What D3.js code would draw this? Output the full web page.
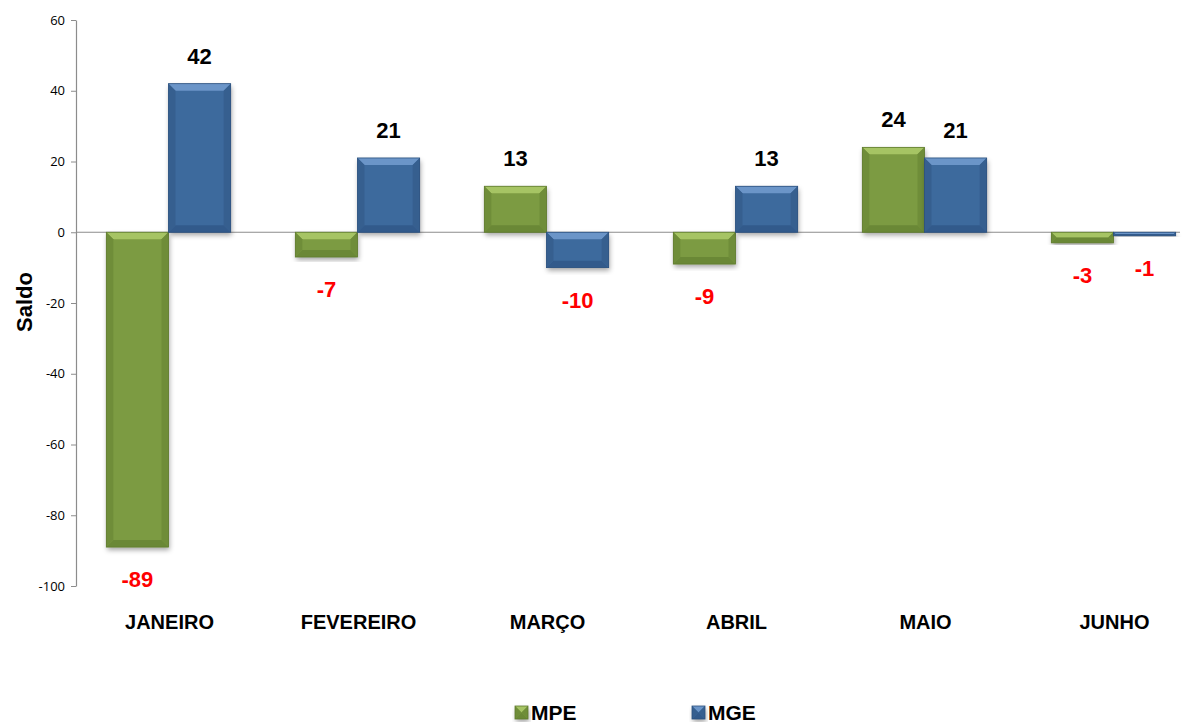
<!DOCTYPE html>
<html>
<head>
<meta charset="utf-8">
<script src="https://cdn.jsdelivr.net/npm/d3@7"></script>
<style>
  body { margin: 0; background: #fff; }
  svg { display: block; font-family: "Liberation Sans", "DejaVu Sans", sans-serif; }
</style>
</head>
<body>
<svg id="chart" width="1194" height="722"></svg>
<script>
// data
var months = ["JANEIRO", "FEVEREIRO", "MARÇO", "ABRIL", "MAIO", "JUNHO"];
var series = ["MPE", "MGE"];
var mpe = [-89, -7, 13, -9, 24, -3];
var mge = [42, 21, -10, 13, 21, -1];
var yTicks = [60, 40, 20, 0, -20, -40, -60, -80, -100];

var colors = {
  MPE: {base: "#7b9b42", light: "#a6c464", dark: "#5f7b2e", side: "#6f8d39"},
  MGE: {base: "#3e6a9d", light: "#6b95c8", dark: "#2b507e", side: "#365f8f"}
};

function drawChart(){
  var svg = d3.select("#chart");
  var margin = {left: 76, right: 1210, top: 20, bottom: 586};

  var x = d3.scaleBand().domain(months).range([74, 1208]).paddingInner(0).paddingOuter(0);
  var xs = d3.scaleBand().domain(series).range([0, x.bandwidth()]).paddingInner(0).paddingOuter(0.52);
  var y = d3.scaleLinear().domain([-100, 60]).range([margin.bottom, margin.top]);

  var rows = months.map(function(m, i){ return {month: m, MPE: mpe[i], MGE: mge[i]}; });

  // drop shadow
  var defs = svg.append("defs");
  var f = defs.append("filter").attr("id", "shadow").attr("x", "-20%").attr("y", "-20%").attr("width", "140%").attr("height", "140%");
  f.append("feDropShadow").attr("dx", 1).attr("dy", 3).attr("stdDeviation", 2.5)
    .attr("flood-color", "#000").attr("flood-opacity", 0.35);

  // y axis
  var yAxis = svg.append("g")
    .attr("transform", "translate(" + margin.left + ",0)")
    .call(d3.axisLeft(y).tickValues(yTicks).tickFormat(function(d){ return String(d); })
      .tickSize(5).tickSizeOuter(0).tickPadding(6));
  yAxis.select(".domain").attr("stroke", "#8c8c8c").attr("stroke-width", 1.2);
  yAxis.selectAll(".tick line").attr("stroke", "#8c8c8c");
  yAxis.selectAll(".tick text").attr("font-size", 13).attr("fill", "#000")
    .attr("font-family", "'Open Sans', 'Liberation Sans', sans-serif");

  // zero line
  svg.append("line")
    .attr("x1", margin.left).attr("x2", 1180)
    .attr("y1", y(0)).attr("y2", y(0))
    .attr("stroke", "#8c8c8c").attr("stroke-width", 1.2);

  // bars with a bevel
  function bevel(g, x0, x1, y0, y1, c){
    var b = Math.min(7, (y1 - y0) / 2, (x1 - x0) / 2);
    g.append("rect").attr("x", x0).attr("y", y0).attr("width", x1 - x0).attr("height", y1 - y0)
      .attr("fill", c.base).attr("filter", "url(#shadow)");
    if (y1 - y0 < 3) return;
    var pt = function(a){ return a.map(function(p){ return p.join(","); }).join(" "); };
    g.append("polygon").attr("points", pt([[x0,y0],[x1,y0],[x1-b,y0+b],[x0+b,y0+b]])).attr("fill", c.light);
    g.append("polygon").attr("points", pt([[x0,y1],[x1,y1],[x1-b,y1-b],[x0+b,y1-b]])).attr("fill", c.dark).attr("opacity", 0.6);
    g.append("polygon").attr("points", pt([[x0,y0],[x0+b,y0+b],[x0+b,y1-b],[x0,y1]])).attr("fill", c.side);
    g.append("polygon").attr("points", pt([[x1,y0],[x1-b,y0+b],[x1-b,y1-b],[x1,y1]])).attr("fill", c.side);
    g.append("rect").attr("x", x0).attr("y", y0).attr("width", x1 - x0).attr("height", y1 - y0)
      .attr("fill", "none").attr("stroke", c.dark).attr("stroke-width", 0.8);
  }

  var groups = svg.append("g").selectAll("g")
    .data(rows)
    .enter().append("g")
    .attr("transform", function(d){ return "translate(" + x(d.month) + ",0)"; });

  series.forEach(function(s){
    groups.each(function(d){
      var g = d3.select(this);
      var v = d[s];
      var x0 = xs(s), x1 = xs(s) + xs.bandwidth();
      var y0 = y(Math.max(0, v)), y1 = y(Math.min(0, v));
      bevel(g.append("g"), x0, x1, y0, y1, colors[s]);
      g.append("text")
        .attr("x", (x0 + x1) / 2)
        .attr("y", v >= 0 ? y0 - 20 : y1 + 40)
        .attr("text-anchor", "middle")
        .attr("font-size", 22)
        .attr("font-weight", "bold")
        .attr("fill", v >= 0 ? "#000" : "#ff0000")
        .text(v);
    });
  });

  // category labels
  svg.append("g").selectAll("text")
    .data(months)
    .enter().append("text")
    .attr("x", function(d){ return x(d) + x.bandwidth() / 2 + 1; })
    .attr("y", 629)
    .attr("text-anchor", "middle")
    .attr("font-size", 20)
    .attr("font-weight", "bold")
    .text(function(d){ return d; });

  // y title
  svg.append("text")
    .attr("transform", "translate(32,302) rotate(-90)")
    .attr("text-anchor", "middle")
    .attr("font-size", 22)
    .attr("font-weight", "bold")
    .text("Saldo");

  // legend
  var legX = [515, 692];
  var legend = svg.append("g").selectAll("g")
    .data(series)
    .enter().append("g")
    .attr("transform", function(d, i){ return "translate(" + legX[i] + ",706)"; });
  legend.each(function(d){
    bevel(d3.select(this).append("g"), 0, 13, 0, 13, colors[d]);
  });
  legend.append("text")
    .attr("x", 16).attr("y", 13.5)
    .attr("font-size", 21).attr("font-weight", "bold")
    .text(function(d){ return d; });
}

drawChart();
</script>
</body>
</html>
